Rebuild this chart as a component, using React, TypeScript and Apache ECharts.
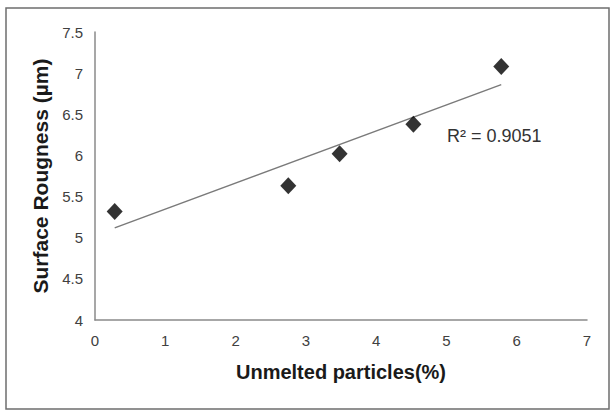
import React, { useEffect, useRef } from "react";
import * as echarts from "echarts";

const unmeltedParticles = [0.28, 2.75, 3.48, 4.53, 5.78];
const surfaceRoughness = [5.32, 5.63, 6.02, 6.38, 7.08];
const trendX = [0.28, 5.78];
const trendY = [5.12, 6.86];
const rSquaredLabel = "R² = 0.9051";

export default function App() {
  const ref = useRef<HTMLDivElement>(null);
  useEffect(() => {
    if (!ref.current) return;
    const chart = echarts.init(ref.current, null, { renderer: "svg" });
    const font = "'Liberation Sans', Arial, sans-serif";
    chart.setOption({
      animation: false,
      backgroundColor: "#ffffff",
      grid: { left: 95, right: 24, top: 32, bottom: 91 },
      xAxis: {
        type: "value",
        min: 0,
        max: 7,
        interval: 1,
        name: "Unmelted particles(%)",
        nameLocation: "middle",
        nameGap: 42,
        nameTextStyle: { fontFamily: font, fontWeight: "bold", fontSize: 20, color: "#1a1a1a" },
        axisLine: { lineStyle: { color: "#8a8a8a", width: 1.5 } },
        axisTick: { show: false },
        splitLine: { show: false },
        axisLabel: { fontFamily: font, fontSize: 15, color: "#404040", margin: 13 },
      },
      yAxis: {
        type: "value",
        min: 4,
        max: 7.5,
        interval: 0.5,
        name: "Surface Rougness (µm)",
        nameLocation: "middle",
        nameGap: 40,
        nameTextStyle: { fontFamily: font, fontWeight: "bold", fontSize: 21, color: "#1a1a1a" },
        axisLine: { show: true, lineStyle: { color: "#8a8a8a", width: 1.5 } },
        axisTick: { show: false },
        splitLine: { show: false },
        axisLabel: { fontFamily: font, fontSize: 15, color: "#404040", margin: 12 },
      },
      series: [
        {
          type: "line",
          data: trendX.map((x, i) => [x, trendY[i]]),
          symbol: "none",
          lineStyle: { color: "#7a7a7a", width: 1.5 },
          z: 1,
        },
        {
          type: "scatter",
          data: unmeltedParticles.map((x, i) => [x, surfaceRoughness[i]]),
          symbol: "diamond",
          symbolSize: [16, 17],
          itemStyle: { color: "#000" },
          z: 2,
        },
      ],
      graphic: [
        {
          type: "rect",
          shape: { x: 6, y: 8, width: 603, height: 401 },
          style: { fill: "none", stroke: "#6e6e6e", lineWidth: 1.5 },
          z: -1,
        },
        {
          type: "text",
          left: 447,
          top: 127,
          style: { text: rSquaredLabel, font: `18px ${font}`, fill: "#333" },
        },
      ],
    });
    return () => chart.dispose();
  }, []);
  return <div ref={ref} style={{ width: 611, height: 411, position: "absolute", left: 0, top: 0 }} />;
}
